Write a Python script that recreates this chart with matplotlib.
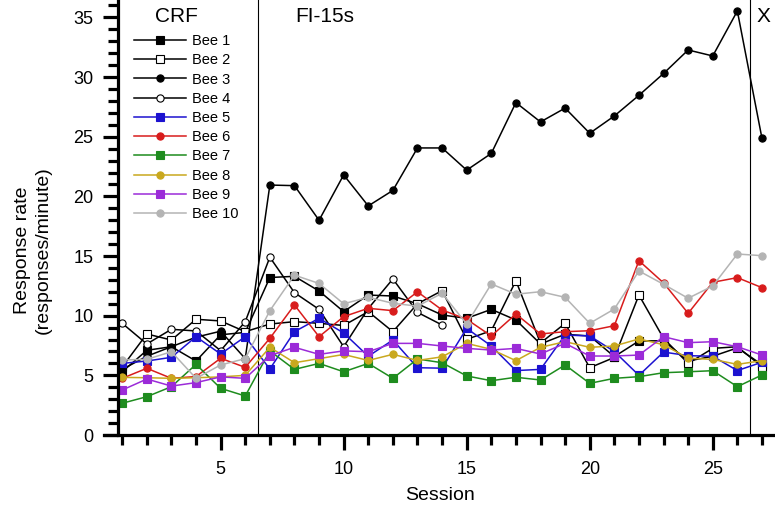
import matplotlib
matplotlib.use("Agg")
import matplotlib.pyplot as plt
from matplotlib.ticker import MultipleLocator, FixedLocator

plt.rcParams['font.family'] = ['Liberation Sans', 'DejaVu Sans']

sessions = list(range(1, 28))

bee1 = [5.3, 7.1, 7.4, 6.2, 8.4, 8.6, 13.2, 13.3, 12.07, 10.34, 11.73, 11.65, 11.0, 10.06,
        9.78, 10.53, 9.64, 7.63, 8.44, 8.3, 6.57, 7.88, 7.9, 6.2, 6.6, 7.3, 5.9]
bee2 = [5.7, 8.47, 7.96, 9.7, 9.56, 8.66, 9.3, 9.5, 9.36, 9.18, 10.34, 8.66, 11.0, 12.1,
        8.02, 8.74, 12.93, 7.7, 9.36, 5.64, 6.5, 11.73, 8.1, 6.0, 7.26, 7.4, 5.73]
bee3 = [5.5, 6.6, 7.4, 8.2, 8.7, 6.4, 20.95, 20.9, 18.0, 21.8, 19.2, 20.5, 24.06, 24.06,
        22.2, 23.6, 27.86, 26.24, 27.4, 25.29, 26.74, 28.47, 30.3, 32.27, 31.77, 35.54, 24.87]
bee4 = [9.36, 7.63, 8.86, 8.72, 7.07, 9.5, 14.9, 11.93, 10.53, 7.4, 10.6, 13.08, 10.28, 9.22]
bee5 = [6.0, 6.2, 6.51, 8.24, 6.79, 8.24, 5.53, 8.66, 9.78, 8.55, 6.6, 7.96, 5.64, 5.6,
        8.94, 7.46, 5.4, 5.5, 8.38, 8.3, 7.0, 5.0, 6.95, 6.65, 6.6, 5.4, 6.1]
bee6 = [4.75, 5.59, 4.75, 4.9, 6.43, 5.67, 8.1, 10.9, 8.24, 9.92, 10.62, 10.42, 12.0, 10.48,
        9.7, 8.3, 10.14, 8.47, 8.66, 8.74, 9.16, 14.61, 12.75, 10.2, 12.8, 13.19, 12.35]
bee7 = [2.66, 3.21, 4.05, 5.92, 3.91, 3.27, 7.05, 5.5, 6.0, 5.3, 6.0, 4.75, 6.37, 6.06,
        4.95, 4.55, 4.84, 4.61, 5.87, 4.33, 4.75, 4.89, 5.22, 5.3, 5.39, 4.05, 5.03]
bee8 = [4.83, 4.8, 4.75, 4.8, 4.87, 5.0, 7.35, 6.06, 6.4, 6.75, 6.25, 6.76, 6.25, 6.55,
        7.68, 7.18, 6.23, 7.35, 7.82, 7.35, 7.46, 8.05, 7.57, 6.43, 6.34, 5.92, 6.23]
bee9 = [3.77, 4.69, 4.1, 4.39, 4.87, 4.75, 6.65, 7.35, 6.76, 7.05, 6.98, 7.68, 7.68, 7.46,
        7.26, 7.12, 7.26, 6.79, 7.68, 6.62, 6.62, 6.7, 8.24, 7.74, 7.82, 7.4, 6.7]
bee10 = [6.29, 6.34, 6.98, 4.75, 5.87, 6.4, 10.42, 13.4, 12.7, 11.0, 11.54, 11.04, 10.8, 11.88,
         9.3, 12.66, 11.8, 12.01, 11.54, 9.36, 10.56, 13.75, 12.63, 11.46, 12.49, 15.17, 15.03]

labels = ["Bee 1", "Bee 2", "Bee 3", "Bee 4", "Bee 5", "Bee 6", "Bee 7", "Bee 8", "Bee 9", "Bee 10"]
series = [bee1, bee2, bee3, bee4, bee5, bee6, bee7, bee8, bee9, bee10]
phase_bounds = [6.5, 26.5]
x_major = [5, 10, 15, 20, 25]

styles = [
    dict(color='black', marker='s', mfc='black'),
    dict(color='black', marker='s', mfc='white'),
    dict(color='black', marker='o', mfc='black'),
    dict(color='black', marker='o', mfc='white'),
    dict(color='#1c12d0', marker='s', mfc='#1c12d0'),
    dict(color='#d81c1c', marker='o', mfc='#d81c1c'),
    dict(color='#1e8c1e', marker='s', mfc='#1e8c1e'),
    dict(color='#c9a81e', marker='o', mfc='#c9a81e'),
    dict(color='#9b2bd8', marker='s', mfc='#9b2bd8'),
    dict(color='#b4b4b4', marker='o', mfc='#b4b4b4'),
]

W, H = 775, 509
fig = plt.figure(figsize=(W / 100, H / 100), dpi=100)
ax = fig.add_axes([104 / W, 74 / H, (W - 104) / W, 435 / H])

handles = []
for lab, vals, st in zip(labels, series, styles):
    xs = sessions[:len(vals)]
    h, = ax.plot(xs, vals, color=st['color'], lw=1.1, marker=st['marker'],
                 mfc=st['mfc'], mec=st['color'],
                 ms=5.2, mew=0.8, label=lab, clip_on=False)
    handles.append(h)

for xb in phase_bounds:
    ax.axvline(xb, color='black', lw=0.8, zorder=0)

ax.set_xlim(0.26, 27.53)
ax.set_ylim(0, 36.46)
ax.spines['top'].set_visible(False)
ax.spines['right'].set_visible(False)
ax.spines['left'].set_position(('data', 0.825))
for s in ('left', 'bottom'):
    ax.spines[s].set_linewidth(2.3)

ax.xaxis.set_major_locator(FixedLocator(x_major))
ax.xaxis.set_minor_locator(FixedLocator([s for s in sessions if s not in x_major]))
ax.yaxis.set_major_locator(MultipleLocator(5))
ax.yaxis.set_minor_locator(MultipleLocator(1))
ax.tick_params(which='major', direction='out', length=10.5, width=2.3, labelsize=13)
ax.tick_params(axis='x', which='major', pad=8)
ax.tick_params(axis='y', which='major', pad=7)
ax.tick_params(which='minor', direction='out', length=7, width=2.3)

ax.set_xlabel("Session", fontsize=14, labelpad=7)
fig.text(33 / W, 1 - 250 / H, "Response rate\n(responses/minute)", rotation=90,
         ha='center', va='center', fontsize=14, linespacing=1.3)

fig.text(176 / W, 1 - 17 / H, "CRF", ha='center', va='center', fontsize=15)
fig.text(325 / W, 1 - 17 / H, "FI-15s", ha='center', va='center', fontsize=15)
fig.text(763 / W, 1 - 17 / H, "X", ha='center', va='center', fontsize=15)

ax.legend(handles=handles, loc='upper left', bbox_to_anchor=(134 / W, 1 - 34 / H),
          bbox_transform=fig.transFigure, frameon=False, fontsize=10.5,
          handlelength=3.55, handletextpad=0.45, labelspacing=0.36,
          borderpad=0, borderaxespad=0)

fig.savefig("out.png", dpi=100)
